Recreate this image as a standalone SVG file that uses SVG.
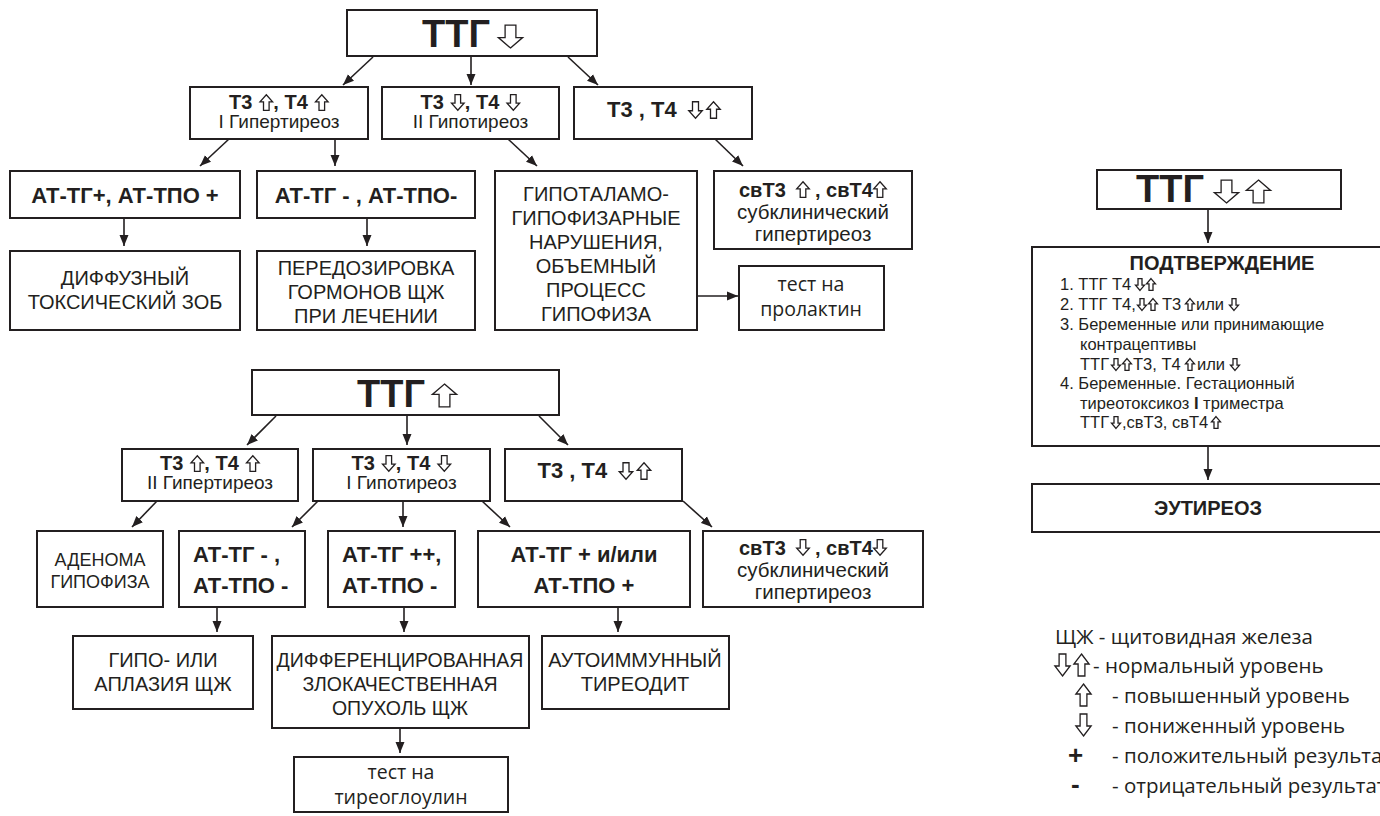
<svg xmlns="http://www.w3.org/2000/svg" width="1380" height="816" viewBox="0 0 1380 816">
<defs>
<marker id="ah" markerWidth="12" markerHeight="10" refX="11" refY="5" orient="auto" markerUnits="userSpaceOnUse">
<path d="M0,0.5 L11,5 L0,9.5 Z" fill="#231f20"/>
</marker>
<symbol id="up" viewBox="0 0 20 24" preserveAspectRatio="none" overflow="visible">
<path d="M10,1 L19,11 L14,11 L14,23 L6,23 L6,11 L1,11 Z" fill="#fff" stroke="#231f20" stroke-width="1.3" vector-effect="non-scaling-stroke"/>
</symbol>
<symbol id="dn" viewBox="0 0 20 24" preserveAspectRatio="none" overflow="visible">
<path d="M10,23 L19,13 L14,13 L14,1 L6,1 L6,13 L1,13 Z" fill="#fff" stroke="#231f20" stroke-width="1.3" vector-effect="non-scaling-stroke"/>
</symbol>
<style>
.box{fill:#fff;stroke:#231f20;stroke-width:2}
.c{stroke:#231f20;stroke-width:1.6;fill:none;marker-end:url(#ah)}
.t{font-family:"Liberation Sans",Arial,sans-serif;fill:#231f20}
.b{font-weight:bold}
.m{text-anchor:middle}
.os{font-family:"Open Sans","Noto Sans",sans-serif;fill:#231f20}
.big{font-size:38px}
.h{font-size:20px}
.sub{font-size:19px}
.lab{font-size:22px}
.cap{font-size:20px}
.sc{font-size:20.5px}
.li{font-size:16.5px}
.lg{font-size:20.5px}
</style>
</defs>
<rect width="1380" height="816" fill="#fff"/>

<g id="connectors">
<line class="c" x1="373" y1="57" x2="343" y2="85"/>
<line class="c" x1="471" y1="57" x2="471" y2="85"/>
<line class="c" x1="568" y1="57" x2="598" y2="85"/>
<line class="c" x1="229" y1="139" x2="200" y2="166"/>
<line class="c" x1="335" y1="139" x2="335" y2="166"/>
<line class="c" x1="508" y1="139" x2="537" y2="166"/>
<line class="c" x1="715" y1="139" x2="743" y2="166"/>
<line class="c" x1="124" y1="218" x2="124" y2="246"/>
<line class="c" x1="367" y1="218" x2="367" y2="246"/>
<line class="c" x1="697" y1="296" x2="738" y2="296"/>
<line class="c" x1="276" y1="416" x2="247" y2="445"/>
<line class="c" x1="407" y1="416" x2="407" y2="445"/>
<line class="c" x1="539" y1="416" x2="568" y2="445"/>
<line class="c" x1="157" y1="501" x2="132" y2="527"/>
<line class="c" x1="318" y1="501" x2="292" y2="527"/>
<line class="c" x1="403" y1="501" x2="403" y2="527"/>
<line class="c" x1="482" y1="501" x2="510" y2="527"/>
<line class="c" x1="683" y1="501" x2="712" y2="527"/>
<line class="c" x1="217" y1="607" x2="217" y2="632"/>
<line class="c" x1="404" y1="607" x2="404" y2="632"/>
<line class="c" x1="618" y1="607" x2="618" y2="632"/>
<line class="c" x1="400" y1="728" x2="400" y2="753"/>
<line class="c" x1="1208" y1="209" x2="1208" y2="243"/>
<line class="c" x1="1208" y1="446" x2="1208" y2="480"/>
</g>

<!-- TOP TREE -->
<g id="ttg-down">
<rect class="box" x="347" y="10" width="250" height="46"/>
<text class="t b big" x="422" y="47">ТТГ</text>
<use href="#dn" x="497" y="24" width="27" height="25"/>
</g>
<g id="t-hyper1">
<rect class="box" x="190" y="87" width="178" height="52"/>
<text class="t b h" x="229" y="109">Т3</text>
<use href="#up" x="259.3" y="94" width="14" height="17"/>
<text class="t b h" x="273.3" y="109">, Т4</text>
<use href="#up" x="314.8" y="94" width="14" height="17"/>
<text class="t m sub" x="279" y="128">I Гипертиреоз</text>
</g>
<g id="t-hypo2">
<rect class="box" x="382" y="87" width="177" height="52"/>
<text class="t b h" x="420.5" y="109">Т3</text>
<use href="#dn" x="450.8" y="94" width="14" height="17"/>
<text class="t b h" x="464.8" y="109">, Т4</text>
<use href="#dn" x="506.3" y="94" width="14" height="17"/>
<text class="t m sub" x="470.5" y="128">II Гипотиреоз</text>
</g>
<g id="t-norm1">
<rect class="box" x="574" y="87" width="178" height="52"/>
<text class="t b lab" x="607" y="117">Т3 , Т4</text>
<use href="#dn" x="688" y="101" width="15" height="18"/>
<use href="#up" x="706" y="101" width="15" height="18"/>
</g>
<g id="at-pos1">
<rect class="box" x="10" y="171" width="230" height="47"/>
<text class="t b m lab" x="125" y="203">АТ-ТГ+, АТ-ТПО +</text>
</g>
<g id="at-neg1">
<rect class="box" x="257" y="171" width="218" height="47"/>
<text class="t b m lab" x="366" y="203">АТ-ТГ - , АТ-ТПО-</text>
</g>
<g id="hypothal">
<rect class="box" x="495" y="171" width="202" height="159"/>
<text class="t m cap" x="596" y="201">ГИПОТАЛАМО-</text>
<text class="t m cap" x="596" y="225">ГИПОФИЗАРНЫЕ</text>
<text class="t m cap" x="596" y="249">НАРУШЕНИЯ,</text>
<text class="t m cap" x="596" y="273">ОБЪЕМНЫЙ</text>
<text class="t m cap" x="596" y="297">ПРОЦЕСС</text>
<text class="t m cap" x="596" y="321">ГИПОФИЗА</text>
</g>
<g id="subclin-hyper1">
<rect class="box" x="714" y="171" width="198" height="78"/>
<text class="t b h" x="739" y="197">свТ3</text>
<use href="#up" x="796" y="181" width="14" height="17"/>
<text class="t b h" x="815" y="197">, свТ4</text>
<use href="#up" x="873" y="181" width="14" height="17"/>
<text class="t m sc" x="813" y="219">субклинический</text>
<text class="t m sc" x="813" y="241">гипертиреоз</text>
</g>
<g id="prolactin">
<rect class="box" x="739" y="266" width="145" height="64"/>
<text class="os m" font-size="19.5" x="811" y="291">тест на</text>
<text class="os m" font-size="19.5" x="811" y="316">пролактин</text>
</g>
<g id="dtz">
<rect class="box" x="10" y="251" width="230" height="79"/>
<text class="t m cap" x="125" y="285">ДИФФУЗНЫЙ</text>
<text class="t m cap" x="125" y="309">ТОКСИЧЕСКИЙ ЗОБ</text>
</g>
<g id="overdose">
<rect class="box" x="257" y="251" width="218" height="79"/>
<text class="t m cap" x="366" y="275">ПЕРЕДОЗИРОВКА</text>
<text class="t m cap" x="366" y="299">ГОРМОНОВ ЩЖ</text>
<text class="t m cap" x="366" y="323">ПРИ ЛЕЧЕНИИ</text>
</g>

<!-- BOTTOM TREE -->
<g id="ttg-up">
<rect class="box" x="252" y="370" width="307" height="45"/>
<text class="t b big" x="357" y="407">ТТГ</text>
<use href="#up" x="431" y="383" width="27" height="25"/>
</g>
<g id="t-hyper2">
<rect class="box" x="122" y="449" width="176" height="52"/>
<text class="t b h" x="160" y="470">Т3</text>
<use href="#up" x="190.3" y="455" width="14" height="17"/>
<text class="t b h" x="204.3" y="470">, Т4</text>
<use href="#up" x="245.8" y="455" width="14" height="17"/>
<text class="t m sub" x="210" y="489">II Гипертиреоз</text>
</g>
<g id="t-hypo1">
<rect class="box" x="313" y="449" width="177" height="52"/>
<text class="t b h" x="351.5" y="470">Т3</text>
<use href="#dn" x="381.8" y="455" width="14" height="17"/>
<text class="t b h" x="395.8" y="470">, Т4</text>
<use href="#dn" x="437.3" y="455" width="14" height="17"/>
<text class="t m sub" x="401.5" y="489">I Гипотиреоз</text>
</g>
<g id="t-norm2">
<rect class="box" x="505" y="449" width="177" height="52"/>
<text class="t b lab" x="537.5" y="478">Т3 , Т4</text>
<use href="#dn" x="618.5" y="462" width="15" height="18"/>
<use href="#up" x="636.5" y="462" width="15" height="18"/>
</g>
<g id="adenoma">
<rect class="box" x="37" y="531" width="126" height="76"/>
<text class="t m" font-size="18" x="100" y="566">АДЕНОМА</text>
<text class="t m" font-size="18" x="100" y="588">ГИПОФИЗА</text>
</g>
<g id="at-neg2">
<rect class="box" x="179" y="531" width="126" height="76"/>
<text class="t b lab" x="193" y="562">АТ-ТГ - ,</text>
<text class="t b lab" x="193" y="593">АТ-ТПО -</text>
</g>
<g id="at-pp">
<rect class="box" x="328" y="531" width="127" height="76"/>
<text class="t b lab" x="342" y="562">АТ-ТГ ++,</text>
<text class="t b lab" x="342" y="593">АТ-ТПО -</text>
</g>
<g id="at-pos2">
<rect class="box" x="478" y="531" width="212" height="76"/>
<text class="t b m lab" x="584" y="562">АТ-ТГ + и/или</text>
<text class="t b m lab" x="584" y="593">АТ-ТПО +</text>
</g>
<g id="subclin-hyper2">
<rect class="box" x="703" y="531" width="220" height="76"/>
<text class="t b h" x="739" y="555">свТ3</text>
<use href="#dn" x="796" y="539" width="14" height="17"/>
<text class="t b h" x="815" y="555">, свТ4</text>
<use href="#dn" x="873" y="539" width="14" height="17"/>
<text class="t m sc" x="813" y="577">субклинический</text>
<text class="t m sc" x="813" y="599">гипертиреоз</text>
</g>
<g id="aplasia">
<rect class="box" x="73" y="636" width="180" height="73"/>
<text class="t m cap" x="163" y="667">ГИПО- ИЛИ</text>
<text class="t m cap" x="163" y="691">АПЛАЗИЯ ЩЖ</text>
</g>
<g id="cancer">
<rect class="box" x="272" y="636" width="257" height="92"/>
<text class="t m" font-size="19.5" x="400" y="667">ДИФФЕРЕНЦИРОВАННАЯ</text>
<text class="t m" font-size="19.5" x="400" y="691">ЗЛОКАЧЕСТВЕННАЯ</text>
<text class="t m" font-size="19.5" x="400" y="715">ОПУХОЛЬ ЩЖ</text>
</g>
<g id="ait">
<rect class="box" x="542" y="636" width="187" height="73"/>
<text class="t m cap" x="635" y="667">АУТОИММУННЫЙ</text>
<text class="t m cap" x="635" y="691">ТИРЕОДИТ</text>
</g>
<g id="thyroglobulin">
<rect class="box" x="294" y="757" width="214" height="55"/>
<text class="os m" font-size="19.5" x="401" y="779">тест на</text>
<text class="os m" font-size="19.5" x="401" y="804">тиреоглоулин</text>
</g>

<!-- RIGHT -->
<g id="ttg-norm">
<rect class="box" x="1097" y="170" width="244" height="39"/>
<text class="t b big" x="1136" y="202">ТТГ</text>
<use href="#dn" x="1213" y="179" width="27" height="25"/>
<use href="#up" x="1245" y="179" width="27" height="25"/>
</g>
<g id="confirm">
<rect class="box" x="1032" y="247" width="360" height="199"/>
<text class="t b m h" x="1222" y="270">ПОДТВЕРЖДЕНИЕ</text>
<text class="t li" x="1060" y="290">1. ТТГ Т4</text>
<use href="#dn" x="1135" y="278" width="10" height="13"/>
<use href="#up" x="1146" y="278" width="10" height="13"/>
<text class="t li" x="1060" y="310">2. ТТГ Т4,</text>
<use href="#dn" x="1137" y="298" width="10" height="13"/>
<use href="#up" x="1148" y="298" width="10" height="13"/>
<text class="t li" x="1162" y="310">Т3</text>
<use href="#up" x="1185" y="298" width="10" height="13"/>
<text class="t li" x="1196" y="310">или</text>
<use href="#dn" x="1229" y="298" width="10" height="13"/>
<text class="t li" x="1060" y="330">3. Беременные или принимающие</text>
<text class="t li" x="1080" y="350">контрацептивы</text>
<text class="t li" x="1080" y="370">ТТГ</text>
<use href="#dn" x="1111" y="358" width="10" height="13"/>
<use href="#up" x="1122" y="358" width="10" height="13"/>
<text class="t li" x="1133" y="370">Т3, Т4</text>
<use href="#up" x="1185" y="358" width="10" height="13"/>
<text class="t li" x="1197" y="370">или</text>
<use href="#dn" x="1230" y="358" width="10" height="13"/>
<text class="t li" x="1060" y="389">4. Беременные. Гестационный</text>
<text class="t li" x="1080" y="409">тиреотоксикоз <tspan class="b">I</tspan> триместра</text>
<text class="t li" x="1080" y="428">ТТГ</text>
<use href="#dn" x="1111" y="416" width="10" height="13"/>
<text class="t li" x="1122" y="428">,свТ3, свТ4</text>
<use href="#up" x="1211" y="416" width="10" height="13"/>
</g>
<g id="euthyroid">
<rect class="box" x="1032" y="484" width="360" height="48"/>
<text class="t b m" font-size="20" x="1208" y="515">ЭУТИРЕОЗ</text>
</g>

<g id="legend">
<text class="os lg" x="1055" y="644">ЩЖ - щитовидная железа</text>
<use href="#dn" x="1054" y="653" width="17" height="24"/>
<use href="#up" x="1073" y="653" width="17" height="24"/>
<text class="os lg" x="1093" y="673">- нормальный уровень</text>
<use href="#up" x="1075" y="683" width="17" height="24"/>
<text class="os lg" x="1112" y="703">- повышенный уровень</text>
<use href="#dn" x="1075" y="713" width="17" height="24"/>
<text class="os lg" x="1112" y="733">- пониженный уровень</text>
<text class="t b" font-size="26" x="1068" y="764">+</text>
<text class="os lg" x="1112" y="763">- положительный результат</text>
<text class="t b" font-size="26" x="1071" y="793">-</text>
<text class="os lg" x="1112" y="793">- отрицательный результат</text>
</g>
</svg>
